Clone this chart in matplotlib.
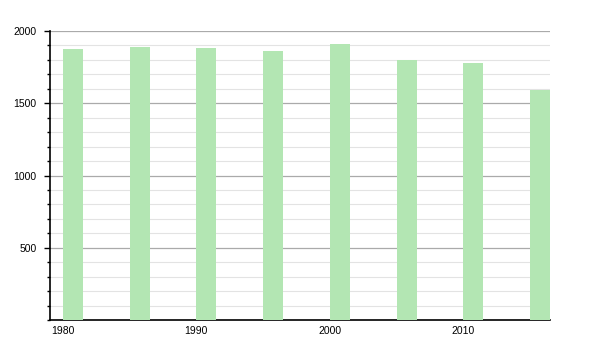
import matplotlib
matplotlib.use("Agg")
import matplotlib.pyplot as plt
from matplotlib.ticker import MultipleLocator

years = [1980, 1985, 1990, 1995, 2000, 2005, 2010, 2015]
population = [1875, 1889, 1882, 1862, 1910, 1799, 1780, 1592]
xticks = [1980, 1990, 2000, 2010]
yticks = [500, 1000, 1500, 2000]

plt.rcParams['font.family'] = ['Liberation Sans', 'DejaVu Sans']

fig = plt.figure(figsize=(6, 3.5), dpi=100)
ax = fig.add_axes([50/600, 1-320/350, 500/600, 289/350])

ax.bar(years, population, width=1.5, align='edge', color='#b3e6b3', zorder=3)

ax.set_xlim(1979.03, 2016.5)
ax.set_ylim(0, 2000)
ax.set_yticks(yticks)
ax.yaxis.set_minor_locator(MultipleLocator(100))
ax.set_xticks(xticks)
ax.set_xticklabels([str(t) for t in xticks])

ax.grid(axis='y', which='major', color='#aaaaaa', linewidth=0.9, zorder=1)
ax.grid(axis='y', which='minor', color='#e3e3e3', linewidth=0.8, zorder=0)

for s in ['top', 'right']:
    ax.spines[s].set_visible(False)
ax.spines['left'].set_color('black')
ax.spines['bottom'].set_color('black')
ax.spines['left'].set_linewidth(1.2)
ax.spines['bottom'].set_linewidth(1.2)

ax.tick_params(axis='y', which='major', length=4, width=1, labelsize=7.5, pad=5.5)
ax.tick_params(axis='y', which='minor', length=2.2, width=1)
ax.tick_params(axis='x', which='major', length=0, labelsize=7.5, pad=4)

fig.savefig('out.png', dpi=100)
